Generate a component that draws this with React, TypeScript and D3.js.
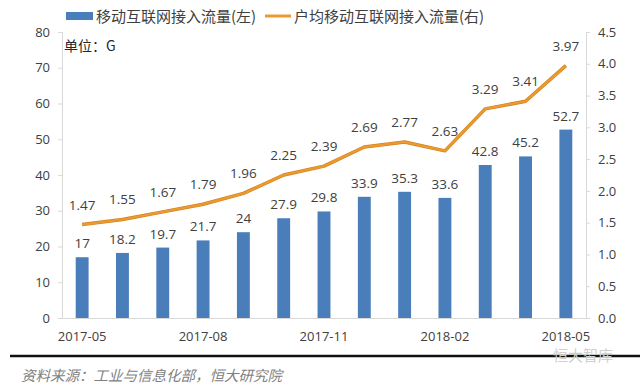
import { useEffect, useRef } from 'react';
import * as d3 from 'd3';

const months = ['2017-05', '2017-06', '2017-07', '2017-08', '2017-09', '2017-10', '2017-11', '2017-12', '2018-01', '2018-02', '2018-03', '2018-04', '2018-05'];
const traffic = [17, 18.2, 19.7, 21.7, 24, 27.9, 29.8, 33.9, 35.3, 33.6, 42.8, 45.2, 52.7];
const perUser = [1.47, 1.55, 1.67, 1.79, 1.96, 2.25, 2.39, 2.69, 2.77, 2.63, 3.29, 3.41, 3.97];
const xTickLabels = ['2017-05', '2017-08', '2017-11', '2018-02', '2018-05'];
const leftTicks = [0, 10, 20, 30, 40, 50, 60, 70, 80];
const rightTicks = [0, 0.5, 1, 1.5, 2, 2.5, 3, 3.5, 4, 4.5];

const BAR = '#4a7ebb';
const LINE = '#ec9a2f';
const CJK = '"Noto Sans CJK SC", sans-serif';
const NUM = '"Open Sans", "Liberation Sans", sans-serif';

export default function App() {
  const svgRef = useRef<SVGSVGElement>(null);

  useEffect(() => {
    if (!svgRef.current) return;
    const W = 640, H = 391;
    const M = { top: 32, right: 54, bottom: 73, left: 62 };
    const svg = d3.select(svgRef.current).attr('width', W).attr('height', H);
    svg.selectAll('*').remove();

    svg.append('rect').attr('width', W).attr('height', H).style('fill', '#fff');

    const x = d3.scaleBand().domain(months).range([M.left, W - M.right]).paddingInner(0.68).paddingOuter(0.34);
    const yL = d3.scaleLinear().domain([0, 80]).range([H - M.bottom, M.top]);
    const yR = d3.scaleLinear().domain([0, 4.5]).range([H - M.bottom, M.top]);

    // Axes
    const gl = svg.append('g').attr('transform', `translate(${M.left},0)`)
      .call(d3.axisLeft(yL).tickValues(leftTicks).tickSize(4).tickPadding(8));
    const gr = svg.append('g').attr('transform', `translate(${W - M.right},0)`)
      .call(d3.axisRight(yR).tickValues(rightTicks).tickSize(4).tickPadding(8).tickFormat(d3.format('.1f')));
    const gx = svg.append('g').attr('transform', `translate(0,${H - M.bottom})`)
      .call(d3.axisBottom(x).tickValues(xTickLabels).tickSize(0).tickPadding(14));
    for (const g of [gl, gr, gx]) {
      g.selectAll('.domain').style('stroke', '#d9d9d9');
      g.selectAll('.tick line').style('stroke', '#d9d9d9');
      g.selectAll('text').style('fill', '#404040').style('font-size', '13px').style('font-family', NUM);
    }

    // Bars
    svg.append('g').selectAll('rect').data(traffic).join('rect')
      .attr('x', (_, i) => x(months[i])!)
      .attr('width', x.bandwidth())
      .attr('y', d => yL(d))
      .attr('height', d => yL(0) - yL(d))
      .style('fill', BAR);

    svg.append('g').selectAll('text').data(traffic).join('text')
      .attr('x', (_, i) => x(months[i])! + x.bandwidth() / 2)
      .attr('y', d => yL(d) - 9)
      .attr('text-anchor', 'middle')
      .style('fill', '#404040').style('font-size', '13.5px').style('font-family', NUM)
      .text(d => String(d));

    // Line
    const line = d3.line<number>()
      .x((_, i) => x(months[i])! + x.bandwidth() / 2)
      .y(d => yR(d));
    svg.append('path').datum(perUser).attr('d', line)
      .style('fill', 'none').style('stroke', '#d08420').style('stroke-width', 3.5).style('stroke-linejoin', 'round');
    svg.append('path').datum(perUser).attr('d', line)
      .style('fill', 'none').style('stroke', LINE).style('stroke-width', 2.2).style('stroke-linejoin', 'round');

    svg.append('g').selectAll('text').data(perUser).join('text')
      .attr('x', (_, i) => x(months[i])! + x.bandwidth() / 2)
      .attr('y', d => yR(d) - 15)
      .attr('text-anchor', 'middle')
      .style('fill', '#404040').style('font-size', '13.5px').style('font-family', NUM)
      .text(d => d.toFixed(2));

    // Legend
    const lg = svg.append('g').style('font-family', CJK).style('font-size', '15px').style('fill', '#404040');
    lg.append('rect').attr('x', 66).attr('y', 12).attr('width', 27).attr('height', 8).style('fill', BAR);
    lg.append('text').attr('x', 96).attr('y', 22).text('移动互联网接入流量(左)');
    lg.append('line').attr('x1', 265).attr('x2', 291).attr('y1', 16).attr('y2', 16)
      .style('stroke', LINE).style('stroke-width', 3);
    lg.append('text').attr('x', 294).attr('y', 22).text('户均移动互联网接入流量(右)');

    svg.append('text').attr('x', 64).attr('y', 51)
      .style('font-family', CJK).style('font-size', '14px').style('fill', '#262626')
      .text('单位：G');

    // Source footer
    svg.append('line').attr('x1', 10).attr('x2', 640).attr('y1', 356).attr('y2', 356)
      .style('stroke', '#111').style('stroke-width', 2.5);
    svg.append('text').attr('x', 21).attr('y', 381)
      .style('font-family', CJK).style('font-size', '14.5px').style('font-style', 'italic').style('fill', '#7f7f7f')
      .text('资料来源：工业与信息化部，恒大研究院');
    svg.append('text').attr('x', 583).attr('y', 361).attr('text-anchor', 'middle')
      .style('font-family', CJK).style('font-size', '15px').style('fill', '#cfcfcf')
      .text('恒大智库');
  }, []);

  return (
    <div style={{ position: 'absolute', left: 0, top: 0 }}>
      <svg ref={svgRef} style={{ display: 'block' }} />
    </div>
  );
}
